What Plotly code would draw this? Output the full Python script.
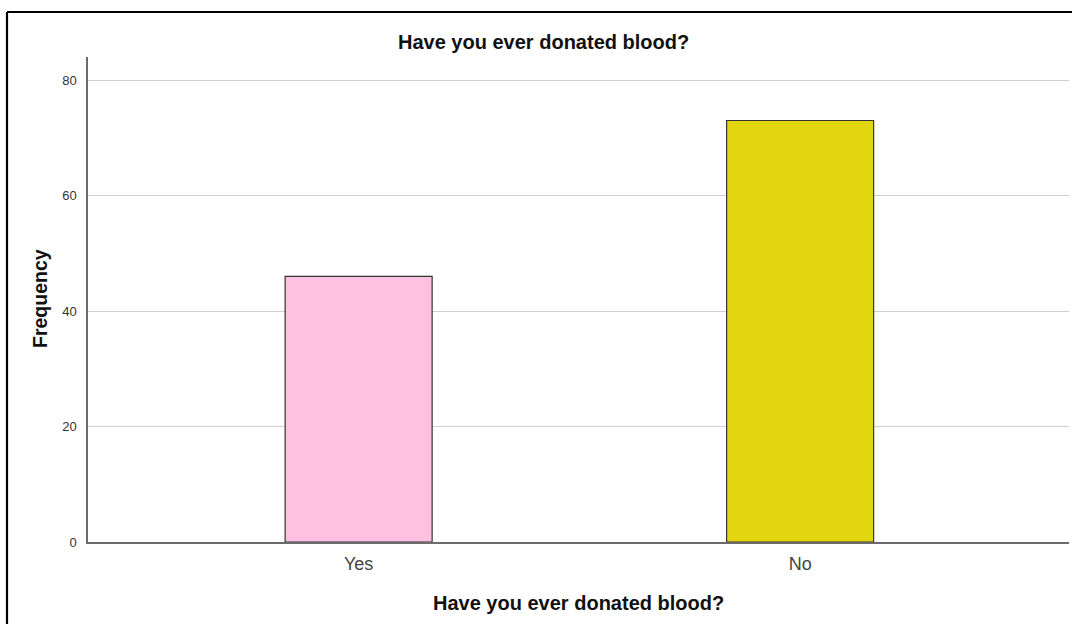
import plotly.graph_objects as go

categories = ["Yes", "No"]
frequencies = [46, 73]
bar_colors = ["#FEC1E1", "#E1D60F"]
y_ticks = [0, 20, 40, 60, 80]

W, H = 1073, 624
L, R, T, B = 88, 1069, 57, 542  # plot area in pixels
pw, ph = R - L, B - T


def px(x):
    return (x - L) / pw


def py(y):
    return (B - y) / ph


fig = go.Figure(
    go.Bar(
        x=[0, 1],
        y=frequencies,
        width=0.333,
        marker=dict(color=bar_colors, line=dict(color="#333333", width=1.2)),
        hoverinfo="x+y",
    )
)

fig.update_layout(
    width=W,
    height=H,
    margin=dict(l=L, r=W - R, t=T, b=H - B),
    paper_bgcolor="white",
    plot_bgcolor="white",
    showlegend=False,
    font=dict(family="Liberation Sans, Arial, sans-serif", color="#222222"),
    xaxis=dict(
        range=[-0.613, 1.609],
        tickmode="array",
        tickvals=[0, 1],
        ticktext=categories,
        showgrid=False,
        zeroline=False,
        showline=True,
        linecolor="#6b6b6b",
        linewidth=1.5,
        ticks="",
        tickfont=dict(size=18, color="#444444"),
        ticklabelstandoff=5,
    ),
    yaxis=dict(
        range=[0, 84],
        tickmode="array",
        tickvals=y_ticks,
        showgrid=True,
        gridcolor="#cfcfcf",
        gridwidth=1,
        zeroline=False,
        showline=True,
        linecolor="#6b6b6b",
        linewidth=1.5,
        ticks="",
        tickfont=dict(size=13, color="#333333"),
        ticklabelstandoff=7,
    ),
    annotations=[
        dict(
            text="<b>Have you ever donated blood?</b>",
            x=px(543.5), y=py(42), xref="paper", yref="paper",
            xanchor="center", yanchor="middle", showarrow=False,
            font=dict(size=20, color="#111111"),
        ),
        dict(
            text="<b>Have you ever donated blood?</b>",
            x=px(578.5), y=py(603), xref="paper", yref="paper",
            xanchor="center", yanchor="middle", showarrow=False,
            font=dict(size=20, color="#111111"),
        ),
        dict(
            text="<b>Frequency</b>",
            x=px(40), y=py(299), xref="paper", yref="paper",
            xanchor="center", yanchor="middle", showarrow=False,
            textangle=-90,
            font=dict(size=19.5, color="#111111"),
        ),
    ],
    shapes=[
        # outer frame: left and top edges
        dict(
            type="line", xref="paper", yref="paper",
            x0=px(7), x1=px(7), y0=py(H), y1=py(12),
            line=dict(color="#000000", width=2.2), layer="above",
        ),
        dict(
            type="line", xref="paper", yref="paper",
            x0=px(7), x1=px(W - 1), y0=py(12), y1=py(12),
            line=dict(color="#000000", width=2.2), layer="above",
        ),
    ],
)

fig.write_html("out.html", config={"displayModeBar": False})
